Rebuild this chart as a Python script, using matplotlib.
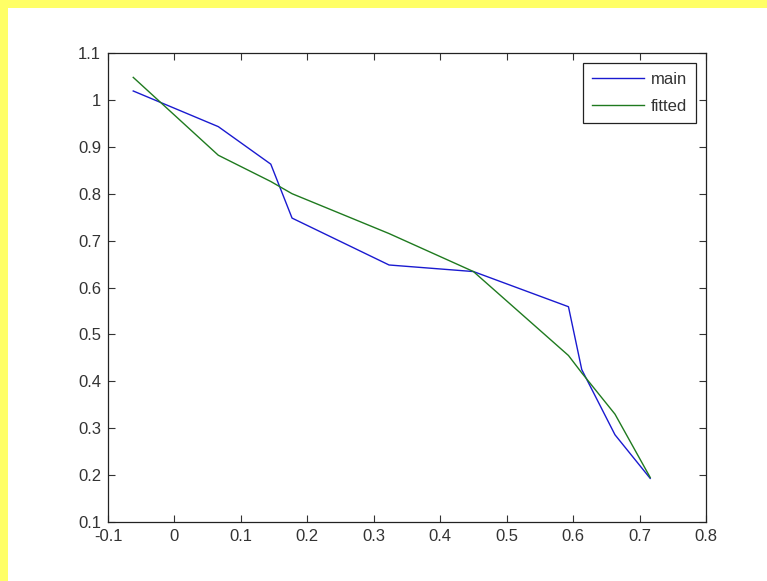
import matplotlib
matplotlib.use("Agg")
import matplotlib.pyplot as plt
from matplotlib.patches import Rectangle

# data
x_vals = [-0.062, 0.066, 0.145, 0.177, 0.323, 0.450, 0.593, 0.613, 0.663, 0.716]
main_vals = [1.019, 0.943, 0.863, 0.748, 0.648, 0.634, 0.559, 0.425, 0.286, 0.193]
fitted_vals = [1.048, 0.882, 0.826, 0.800, 0.715, 0.634, 0.455, 0.418, 0.330, 0.195]
xtick_vals = [-0.1, 0, 0.1, 0.2, 0.3, 0.4, 0.5, 0.6, 0.7, 0.8]
xtick_labels = ["-0.1", "0", "0.1", "0.2", "0.3", "0.4", "0.5", "0.6", "0.7", "0.8"]
ytick_vals = [0.1, 0.2, 0.3, 0.4, 0.5, 0.6, 0.7, 0.8, 0.9, 1.0, 1.1]
ytick_labels = ["0.1", "0.2", "0.3", "0.4", "0.5", "0.6", "0.7", "0.8", "0.9", "1", "1.1"]

plt.rcParams['font.family'] = ['Liberation Sans', 'DejaVu Sans']

W, H = 767, 581
fig = plt.figure(figsize=(W / 100, H / 100), dpi=100)
fig.patch.set_facecolor('white')

# yellow frame on top and left
fig.patches.append(Rectangle((0, 0), 8 / W, 1, transform=fig.transFigure,
                             facecolor='#ffff66', edgecolor='none', zorder=0))
fig.patches.append(Rectangle((0, 1 - 8 / H), 1, 8 / H, transform=fig.transFigure,
                             facecolor='#ffff66', edgecolor='none', zorder=0))

ax = fig.add_axes([108 / W, (H - 522) / H, (706 - 108) / W, (522 - 53) / H])
ax.plot(x_vals, main_vals, color='#1a1ad0', lw=1.0, label='main')
ax.plot(x_vals, fitted_vals, color='#1f7a1f', lw=1.0, label='fitted')

ax.set_xlim(-0.1, 0.8)
ax.set_ylim(0.1, 1.1)
ax.set_xticks(xtick_vals)
ax.set_xticklabels(xtick_labels)
ax.set_yticks(ytick_vals)
ax.set_yticklabels(ytick_labels)
ax.tick_params(direction='in', length=5, width=0.8, top=True, right=True,
               labelsize=12, colors='#333333', pad=5)
for s in ax.spines.values():
    s.set_color('#222222')
    s.set_linewidth(0.9)

leg = ax.legend(loc='upper right', fancybox=False, edgecolor='#222222',
                framealpha=1, fontsize=12, handlelength=3.1, handletextpad=0.4,
                borderaxespad=0.6, borderpad=0.55, labelspacing=0.7)
leg.get_frame().set_linewidth(0.9)
for t in leg.get_texts():
    t.set_color('#333333')

fig.savefig('out.png', dpi=100)
